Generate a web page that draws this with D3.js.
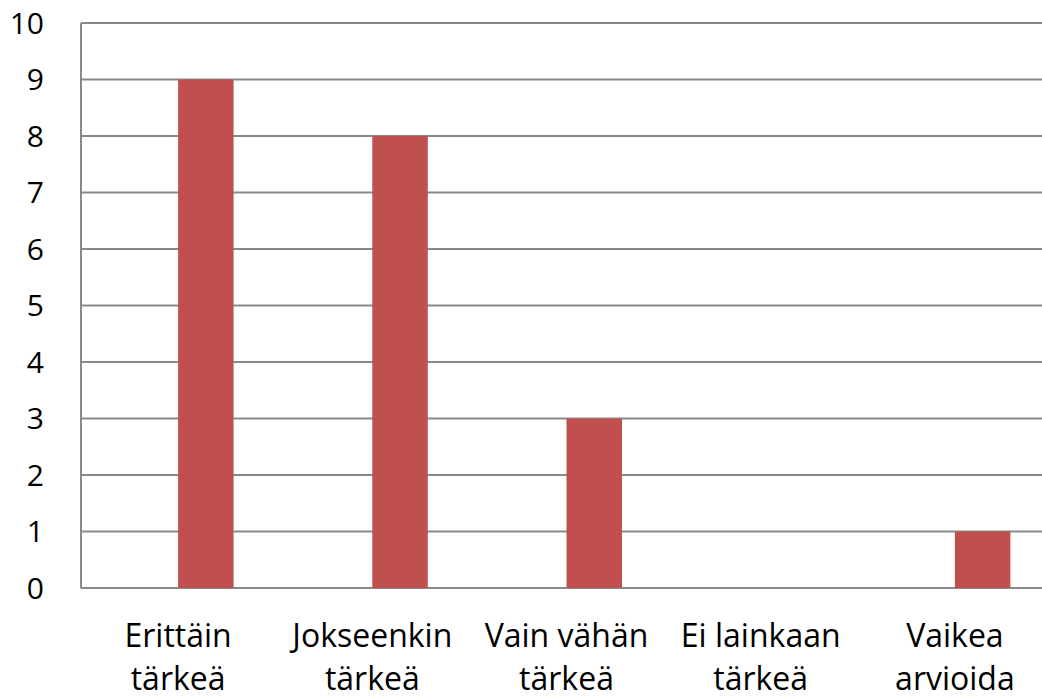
<!DOCTYPE html>
<html>
<head>
<meta charset="utf-8">
<script src="https://cdn.jsdelivr.net/npm/d3@7"></script>
<style>
  body { margin: 0; background: #fff; }
  text { font-family: "Open Sans", "Noto Sans", sans-serif; fill: #000; }
</style>
</head>
<body>
<div id="graf"></div>
<script>
// datos
const categorias = [
  ["Erittäin", "tärkeä"],
  ["Jokseenkin", "tärkeä"],
  ["Vain vähän", "tärkeä"],
  ["Ei lainkaan", "tärkeä"],
  ["Vaikea", "arvioida"]
]
const series = ["s1", "s2"]
const valoresS1 = [0, 0, 0, 0, 0]
const valoresS2 = [9, 8, 3, 0, 1]
const yTicks = [0, 1, 2, 3, 4, 5, 6, 7, 8, 9, 10]

// dimensiones
const anchoTotal = 1042
const altoTotal = 696
const margins = { top: 23, right: -10, bottom: 108, left: 81 }
const ancho = anchoTotal - margins.left - margins.right
const alto = altoTotal - margins.top - margins.bottom

const svg = d3.select("#graf")
  .append("svg")
  .attr("width", anchoTotal)
  .attr("height", altoTotal)

const g = svg.append("g")
  .attr("transform", `translate(${margins.left}, ${margins.top})`)

// escaladores
const claves = categorias.map(d => d.join(" "))
const x0 = d3.scaleBand().domain(claves).range([0, ancho]).padding(0)
const x1 = d3.scaleBand().domain(series).range([0, x0.bandwidth()])
  .paddingInner(0).paddingOuter(0.75)
const y = d3.scaleLinear().domain([0, 10]).range([alto, 0])

// rejilla
g.selectAll("line.grid")
  .data(yTicks)
  .join("line")
  .attr("class", "grid")
  .attr("x1", 0)
  .attr("x2", ancho)
  .attr("y1", d => y(d))
  .attr("y2", d => y(d))
  .attr("stroke", "#898989")
  .attr("stroke-width", 2)

// barras
const filas = claves.map((c, i) => ({ c, s1: valoresS1[i], s2: valoresS2[i] }))
const grupos = g.selectAll("g.cat")
  .data(filas)
  .join("g")
  .attr("class", "cat")
  .attr("transform", d => `translate(${x0(d.c)},0)`)

grupos.selectAll("rect")
  .data(d => series.map(s => ({ s, v: d[s] })))
  .join("rect")
  .attr("x", d => x1(d.s))
  .attr("y", d => y(d.v))
  .attr("width", x1.bandwidth())
  .attr("height", d => alto - y(d.v))
  .attr("fill", d => d.s === "s2" ? "#C0504D" : "#4F81BD")

// eje y
g.append("line")
  .attr("x1", 0).attr("x2", 0)
  .attr("y1", 0).attr("y2", alto)
  .attr("stroke", "#898989")
  .attr("stroke-width", 2)

g.selectAll("text.ytick")
  .data(yTicks)
  .join("text")
  .attr("class", "ytick")
  .attr("x", -37)
  .attr("y", d => y(d))
  .attr("dy", "0.35em")
  .attr("text-anchor", "end")
  .style("font-size", "30px")
  .text(d => d)

// etiquetas x
const etiquetas = g.selectAll("text.xlab")
  .data(categorias)
  .join("text")
  .attr("class", "xlab")
  .attr("text-anchor", "middle")
  .attr("transform", (d, i) => `translate(${x0(claves[i]) + x0.bandwidth() / 2}, ${alto + 59})`)
  .style("font-size", "32px")

etiquetas.selectAll("tspan")
  .data(d => d)
  .join("tspan")
  .attr("x", 0)
  .attr("dy", (d, i) => i === 0 ? 0 : 43)
  .text(d => d)
</script>
</body>
</html>
